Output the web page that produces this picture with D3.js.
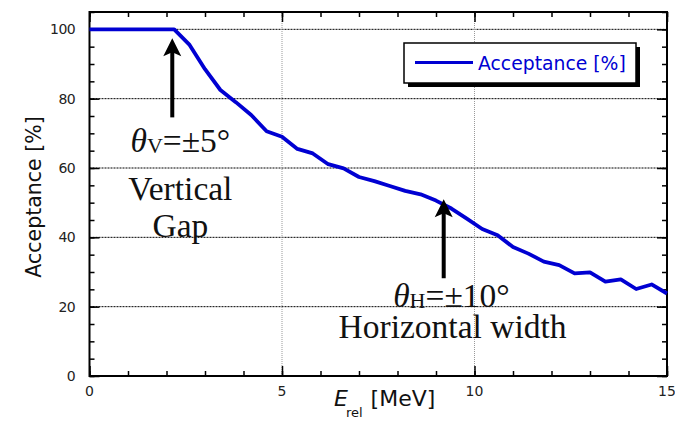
<!DOCTYPE html>
<html>
<head>
<meta charset="utf-8">
<script src="https://cdn.jsdelivr.net/npm/d3@7"></script>
<style>
  body { margin: 0; background: #fff; }
  svg { display: block; }
</style>
</head>
<body>
<div id="chart"></div>
<script>
const width = 675, height = 422;
const margin = { top: 12, right: 8, bottom: 46, left: 89.5 };

// acceptance vs relative energy
const energy = [0, 2.2, 2.6, 3.0, 3.4, 3.8, 4.2, 4.6, 5.0, 5.4, 5.8, 6.2, 6.6, 7.0, 7.4,
  7.8, 8.2, 8.6, 9.0, 9.4, 9.8, 10.2, 10.6, 11.0, 11.4, 11.8, 12.2, 12.6, 13.0,
  13.4, 13.8, 14.2, 14.6, 15.0];
const acceptance = [100, 100, 95.5, 88.5, 82.5, 79.0, 75.3, 70.6, 69.0, 65.5, 64.2, 61.1,
  59.9, 57.4, 56.2, 54.8, 53.4, 52.4, 50.6, 48.3, 45.4, 42.4, 40.6, 37.2, 35.3, 33.0,
  32.0, 29.6, 29.9, 27.2, 27.9, 25.1, 26.4, 23.8];

const xTicks = [0, 5, 10, 15];
const yTicks = [0, 20, 40, 60, 80, 100];
const xGrid = [5, 10];
const yGrid = [20, 40, 60, 80, 100];

const lineColor = "#0000d2";

const svg = d3.select("#chart").append("svg")
    .attr("width", width)
    .attr("height", height);

const x = d3.scaleLinear().domain([0, 15]).range([margin.left, width - margin.right]);
const y = d3.scaleLinear().domain([0, 105]).range([height - margin.bottom, margin.top]);

// grid lines
svg.append("g")
    .selectAll("line")
    .data(yGrid)
    .enter()
    .append("line")
    .attr("x1", x(0)).attr("x2", x(15))
    .attr("y1", d => y(d)).attr("y2", d => y(d))
    .attr("stroke", "#000")
    .attr("stroke-width", 1)
    .attr("stroke-dasharray", "2,1");

svg.append("g")
    .selectAll("line")
    .data(xGrid)
    .enter()
    .append("line")
    .attr("x1", d => x(d)).attr("x2", d => x(d))
    .attr("y1", y(0)).attr("y2", y(105))
    .attr("stroke", "#999")
    .attr("stroke-width", 1)
    .attr("stroke-dasharray", "1,1");

// axes with inward ticks
function tickAxis(axisFn, scale, major, minor, transform) {
    svg.append("g").attr("transform", transform)
        .call(axisFn(scale).tickValues(minor).tickSize(-5).tickFormat(""))
        .call(g => g.select(".domain").remove());
    svg.append("g").attr("transform", transform)
        .call(axisFn(scale).tickValues(major).tickSize(-10).tickFormat(""))
        .call(g => g.select(".domain").remove());
}
const xMinor = d3.range(0, 16, 1);
const yMinor = d3.range(0, 106, 5);
tickAxis(d3.axisBottom, x, xTicks, xMinor, `translate(0,${y(0)})`);
tickAxis(d3.axisTop, x, xTicks, xMinor, `translate(0,${y(105)})`);
tickAxis(d3.axisLeft, y, yTicks, yMinor, `translate(${x(0)},0)`);
tickAxis(d3.axisRight, y, yTicks, yMinor, `translate(${x(15)},0)`);
svg.selectAll(".tick line").attr("stroke-width", 1.5);

// frame
svg.append("rect")
    .attr("x", x(0)).attr("y", y(105))
    .attr("width", x(15) - x(0)).attr("height", y(0) - y(105))
    .attr("fill", "none")
    .attr("stroke", "#000")
    .attr("stroke-width", 2);

// tick labels
svg.append("g")
    .selectAll("text")
    .data(xTicks)
    .enter()
    .append("text")
    .attr("x", d => x(d))
    .attr("y", 396)
    .attr("text-anchor", "middle")
    .attr("font-family", "DejaVu Sans")
    .attr("font-size", 14)
    .attr("fill", "#222")
    .text(d => d);

svg.append("g")
    .selectAll("text")
    .data(yTicks)
    .enter()
    .append("text")
    .attr("x", 75)
    .attr("y", d => y(d))
    .attr("dy", "0.36em")
    .attr("text-anchor", "end")
    .attr("font-family", "DejaVu Sans")
    .attr("font-size", 14)
    .attr("letter-spacing", -0.6)
    .attr("fill", "#222")
    .text(d => d);

// axis titles
svg.append("text")
    .attr("transform", `translate(41,${(y(0) + y(105)) / 2 + 3}) rotate(-90)`)
    .attr("text-anchor", "middle")
    .attr("font-family", "DejaVu Sans")
    .attr("font-size", 20.5)
    .attr("fill", "#111")
    .text("Acceptance [%]");

const xt = svg.append("text")
    .attr("x", 334)
    .attr("y", 406)
    .attr("font-family", "DejaVu Sans")
    .attr("font-size", 22)
    .attr("fill", "#111");
xt.append("tspan").attr("font-style", "italic").text("E");
xt.append("tspan").attr("font-size", 13).attr("dy", 11).attr("dx", -2).text("rel");
xt.append("tspan").attr("dy", -11).attr("dx", 8).text("[MeV]");

// data line
const line = d3.line()
    .x((d, i) => x(energy[i]))
    .y(d => y(d));

svg.append("path")
    .datum(acceptance)
    .attr("d", line)
    .attr("fill", "none")
    .attr("stroke", lineColor)
    .attr("stroke-width", 3.8)
    .attr("stroke-linejoin", "round");

// legend
const lg = svg.append("g");
lg.append("rect")
    .attr("x", 408).attr("y", 47).attr("width", 232).attr("height", 40)
    .attr("fill", "#000");
lg.append("rect")
    .attr("x", 404).attr("y", 43).attr("width", 232).attr("height", 40)
    .attr("fill", "#fff")
    .attr("stroke", "#000")
    .attr("stroke-width", 1.5);
lg.append("line")
    .attr("x1", 415).attr("x2", 473).attr("y1", 62.5).attr("y2", 62.5)
    .attr("stroke", lineColor)
    .attr("stroke-width", 3);
lg.append("text")
    .attr("x", 478).attr("y", 63).attr("dy", "0.36em")
    .attr("font-family", "DejaVu Sans")
    .attr("font-size", 18.8)
    .attr("fill", lineColor)
    .text("Acceptance [%]");

// annotation arrows
const arrows = [
    { e: 2.15, from: 74.6, to: 97.4 },
    { e: 9.2, from: 28.2, to: 51.0 }
];
arrows.forEach(a => {
    const ax = x(a.e), y0 = y(a.from), y1 = y(a.to);
    svg.append("line")
        .attr("x1", ax).attr("x2", ax)
        .attr("y1", y0).attr("y2", y1 + 12)
        .attr("stroke", "#000")
        .attr("stroke-width", 4);
    svg.append("path")
        .attr("d", `M${ax},${y1} L${ax - 9},${y1 + 18} L${ax},${y1 + 14} L${ax + 9},${y1 + 18} Z`)
        .attr("fill", "#000");
});

// annotation texts
const serif = "Liberation Serif, Times New Roman, serif";
function angleLabel(e, a, sub, rest) {
    const t = svg.append("text")
        .attr("x", x(e)).attr("y", y(a))
        .attr("text-anchor", "middle")
        .attr("font-family", serif)
        .attr("font-size", 33.5)
        .attr("fill", "#111");
    t.append("tspan").attr("font-style", "italic").text("θ");
    t.append("tspan").attr("font-size", 22).attr("dy", 1).text(sub);
    t.append("tspan").attr("dy", -1).text(rest);
}
function plainLabel(e, a, txt) {
    svg.append("text")
        .attr("x", x(e)).attr("y", y(a))
        .attr("text-anchor", "middle")
        .attr("font-family", serif)
        .attr("font-size", 33.5)
        .attr("fill", "#111")
        .text(txt);
}
angleLabel(2.36, 64.6, "V", "=±5°");
plainLabel(2.36, 50.7, "Vertical");
plainLabel(2.36, 40.0, "Gap");
angleLabel(9.4, 20.0, "H", "=±10°");
plainLabel(9.43, 11.0, "Horizontal width");
</script>
</body>
</html>
